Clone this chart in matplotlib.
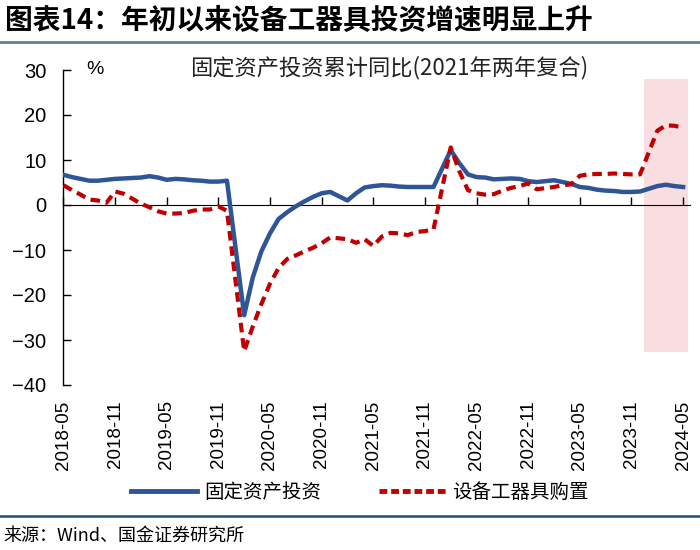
import matplotlib
matplotlib.use("Agg")
import matplotlib.pyplot as plt
from matplotlib.lines import Line2D

plt.rcParams['font.family'] = ['Noto Sans CJK SC', 'DejaVu Sans']

# ── Data (Jan is not published) ────────────────────────────────────────
months = [
    '2018-05', '2018-06', '2018-07', '2018-08', '2018-09', '2018-10', '2018-11', '2018-12',
    '2019-02', '2019-03', '2019-04', '2019-05', '2019-06', '2019-07', '2019-08', '2019-09',
    '2019-10', '2019-11', '2019-12',
    '2020-02', '2020-03', '2020-04', '2020-05', '2020-06', '2020-07', '2020-08', '2020-09',
    '2020-10', '2020-11', '2020-12',
    '2021-02', '2021-03', '2021-04', '2021-05', '2021-06', '2021-07', '2021-08', '2021-09',
    '2021-10', '2021-11', '2021-12',
    '2022-02', '2022-03', '2022-04', '2022-05', '2022-06', '2022-07', '2022-08', '2022-09',
    '2022-10', '2022-11', '2022-12',
    '2023-02', '2023-03', '2023-04', '2023-05', '2023-06', '2023-07', '2023-08', '2023-09',
    '2023-10', '2023-11', '2023-12',
    '2024-02', '2024-03', '2024-04', '2024-05',
]

fai = [
    6.7, 6.2, 5.8, 5.4, 5.4, 5.6, 5.8, 5.9,
    6.1, 6.4, 6.1, 5.6, 5.8, 5.7, 5.5, 5.4, 5.2, 5.2, 5.4,
    -24.5, -16.1, -10.3, -6.3, -3.1, -1.6, -0.3, 0.8, 1.8, 2.6, 2.9,
    1.0, 2.6, 3.9, 4.2, 4.4, 4.3, 4.1, 4.0, 4.0, 4.0, 4.0,
    12.2, 9.3, 6.8, 6.2, 6.1, 5.7, 5.8, 5.9, 5.8, 5.3, 5.1,
    5.5, 5.1, 4.7, 4.0, 3.8, 3.4, 3.2, 3.1, 2.9, 2.9, 3.0,
    4.2, 4.5, 4.2, 4.0,
]

equip = [
    4.4, 3.3, 2.3, 1.2, 1.0, 0.5, 3.0, 2.5,
    0.3, -0.5, -1.4, -1.9, -1.9, -1.8, -1.3, -1.0, -1.0, -0.3, -1.3,
    -32.5, -27.0, -22.0, -17.5, -14.0, -12.0, -11.2, -10.3, -9.5, -8.5, -7.2,
    -7.6, -8.4, -7.6, -9.1, -7.0, -6.2, -6.3, -6.7, -6.0, -5.8, -5.4,
    12.8, 7.5, 3.3, 2.6, 2.3, 2.4, 3.2, 3.8, 4.2, 4.8, 3.5,
    4.0, 4.4, 4.6, 6.5, 6.8, 6.9, 6.9, 7.0, 6.9, 6.8, 6.8,
    16.5, 17.7, 17.6, 17.2,
]

tick_months = ['2018-05', '2018-11', '2019-05', '2019-11', '2020-05', '2020-11',
               '2021-05', '2021-11', '2022-05', '2022-11', '2023-05', '2023-11', '2024-05']
y_ticks = [30, 20, 10, 0, -10, -20, -30, -40]

shade_from, shade_to = '2023-12', '2024-05'
shade_low, shade_high = -32.7, 27.9

labels = ['固定资产投资', '设备工器具购置']


def midx(s):
    y, m = s.split('-')
    return (int(y) - 2018) * 12 + int(m) - 5


# ── Plot ───────────────────────────────────────────────────────────────
fig = plt.figure(figsize=(7, 5.5), dpi=100)
ax = fig.add_axes([63 / 700, 1 - 385 / 550, 627 / 700, 315 / 550])

x = [midx(m) for m in months]
blue = '#2F5597'
red = '#C00000'

ax.fill_between([midx(shade_from) + 0.5, midx(shade_to) + 0.6], shade_low, shade_high,
                color='#F8DEE0', lw=0, zorder=0)
ax.plot(x, fai, color=blue, lw=3.2, solid_joinstyle='round', zorder=3)
ax.plot(x, equip, color=red, lw=3.0, ls=(0, (2.3, 1.4)), zorder=4)

ax.set_ylim(-40, 30)
ax.set_xlim(-0.05, 72.8)
ax.set_yticks(y_ticks)
ax.tick_params(axis='y', direction='in', length=6, width=1, pad=12, labelsize=14.5)
xt = [midx(m) for m in tick_months]
ax.set_xticks(xt)
ax.set_xticklabels(tick_months, rotation=90)
ax.tick_params(axis='x', length=0, pad=11, labelsize=13.5)
for lbl in ax.get_xticklabels() + ax.get_yticklabels():
    lbl.set_fontfamily('Liberation Sans')

for s in ['top', 'right', 'bottom']:
    ax.spines[s].set_visible(False)
ax.spines['left'].set_linewidth(1)

# zero line with downward ticks
zax = ax.secondary_xaxis(40 / 70)
zax.set_xticks(xt)
zax.set_xticklabels([])
zax.tick_params(direction='out', length=6, width=1)
zax.spines['bottom'].set_linewidth(1)

fig.text(95 / 700, 1 - 70 / 550, '%', fontsize=14, family='Liberation Sans',
         ha='center', va='center')
fig.text(389 / 700, 1 - 68 / 550, '固定资产投资累计同比(2021年两年复合)', fontsize=16,
         ha='center', va='center', color='#222222')

handles = [Line2D([], [], color=blue, lw=3.5),
           Line2D([], [], color=red, lw=3.5, ls=(0, (1.6, 0.8)))]
fig.legend(handles, labels, loc='center', bbox_to_anchor=(360 / 700, 1 - 492 / 550),
           ncol=2, frameon=False, fontsize=14, handlelength=3.4,
           handletextpad=0.35, columnspacing=3.0)

fig.text(5 / 700, 1 - 21 / 550, '图表14：年初以来设备工器具投资增速明显上升',
         fontsize=20, fontweight='semibold', ha='left', va='center')
fig.add_artist(Line2D([0, 1], [1 - 42 / 550] * 2, color='#5F8090', lw=2))
fig.add_artist(Line2D([0, 1], [1 - 516 / 550] * 2, color='#1F4E79', lw=1.8))
fig.text(3 / 700, 1 - 536 / 550, '来源：Wind、国金证券研究所', fontsize=13,
         ha='left', va='center')

fig.savefig('out.png', dpi=100)
